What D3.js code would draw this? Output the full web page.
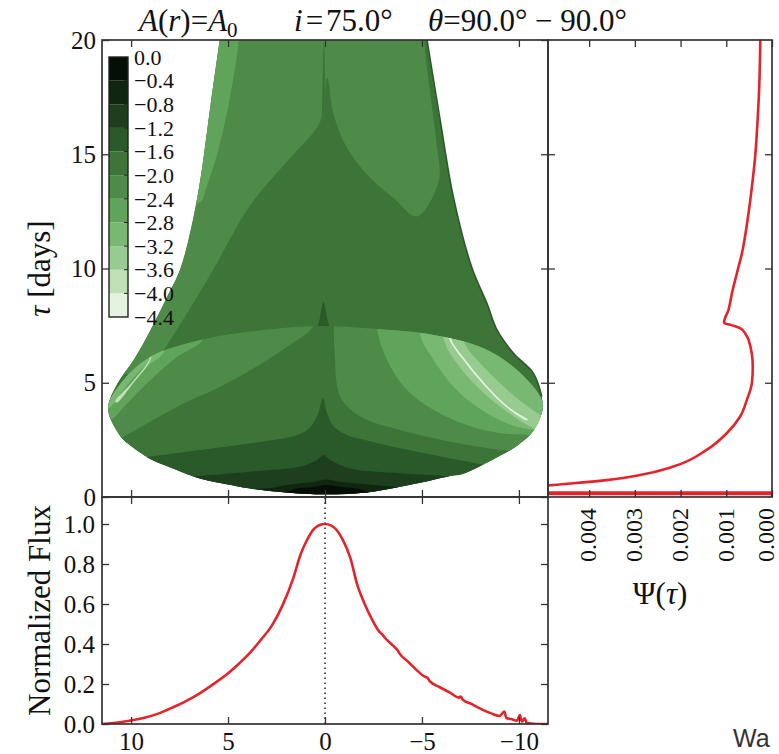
<!DOCTYPE html>
<html>
<head>
<meta charset="utf-8">
<script src="https://cdn.jsdelivr.net/npm/d3@7"></script>
<style>
  body { margin: 0; background: #fff; }
  svg { display: block; }
</style>
</head>
<body>
<svg id="chart" width="779" height="754"></svg>
<script>
// ---------------- data ----------------
// contour levels (log response) shown on the colour bar
const levelTicks = [0.0, -0.4, -0.8, -1.2, -1.6, -2.0, -2.4, -2.8, -3.2, -3.6, -4.0, -4.4];
// colour of each 0.4-wide band, from -4.4 (light) up to 0.0 (dark)
const bandColors = ["#e3f3df", "#bfe1b8", "#97cb90", "#79b873", "#60a35b", "#4e8b48",
                    "#3d7539", "#2a5a2a", "#1d3f1e", "#11260f", "#050f06"];

// outline of the response map, points are [velocity, delay (days)]
const bellLeft  = [[5.43,20],[5.90,17.17],[6.59,13.09],[7.45,10.02],[8.14,8.77],[9.00,7.31],[9.87,6.00],[10.71,4.98],[11.19,3.88]];
const bellRight = [[-11.23,3.88],[-11.18,4.4],[-10.75,5.41],[-9.72,6.29],[-8.87,7.31],[-8.35,8.48],[-7.58,10.02],[-6.63,13.09],[-5.95,16.44],[-5.26,20]];
const diskTop    = [[11.19,3.88],[10.54,4.97],[9.00,6.14],[6.42,6.87],[3.84,7.24],[0.41,7.48],[-2.17,7.38],[-5.60,7.09],[-8.18,6.51],[-9.90,5.56],[-11.10,4.39],[-11.23,3.88]];
const diskBottom = [[11.19,3.88],[10.54,2.64],[10.20,2.35],[9.00,1.65],[8.14,1.35],[6.42,0.80],[5.0,0.55],[3.84,0.37],[2.0,0.2],[0.0,0.12],[-2.17,0.2],[-3.88,0.45],[-4.92,0.62],[-6.46,0.92],[-7.15,1.02],[-9.04,1.8],[-10.0,2.3],[-10.75,2.9],[-11.23,3.88]];

// filled contour regions inside the extended (bell) part
const bellBand  = [[12,21],[-5.12,21],[-5.12,20],[-5.45,17.5],[-5.75,15.5],[-5.86,13.82],[-4.74,12.28],[-3.54,13.09],[-2.34,13.96],[-1.14,15.27],[-0.45,16.73],[-0.11,18.34],[0.24,16.44],[1.95,14.69],[3.84,12.79],[5.8,9.9],[7.0,8.2],[8.31,6.43],[9.0,5.5],[12,5.5]];
const bellStrip = [[4.45,21],[4.45,20],[4.9,17.5],[5.5,15.2],[6.1,13.6],[6.45,12.9],[8,12.9],[8,21]];
const bellSpike = [[0.17,16.3],[0.06,19.95],[-0.05,16.3]];
const topSpike  = [[0.55,7.0],[0.3,7.7],[0.08,8.55],[-0.15,7.7],[-0.4,7.0]];

// filled contour regions inside the disk
const diskLeftL6  = [[0.58,9],[0.58,7.53],[1.95,6.58],[3.84,5.56],[5.56,4.76],[7.28,4.10],[9.00,3.30],[10.37,2.64],[11.06,2.35],[13,2.0],[13,9]];
const diskLeftL7  = [[6.25,9],[6.25,6.94],[7.62,6.14],[9.00,5.12],[10.20,4.10],[11.06,3.37],[13,3.0],[13,9]];
const diskLeftL8  = [[8.31,9],[8.31,6.36],[9.51,5.56],[10.54,4.54],[11.06,3.95],[13,3.5],[13,9]];
const diskLeftRidge = [[9.15,6.6],[9.03,6.11],[9.98,4.99],[10.82,4.19],[10.74,4.13],[9.92,4.95],[8.97,6.06],[9.05,6.6]];
const diskRightL6 = [[-0.45,9],[-0.45,7.60],[-0.50,6.29],[-0.79,4.39],[-1.82,3.52],[-3.88,2.93],[-6.46,2.42],[-9.04,2.06],[-9.90,1.98],[-13,1.5],[-13,9]];
const diskRightL7 = [[-2.68,9],[-2.68,7.38],[-3.20,6.00],[-4.23,4.68],[-5.60,3.81],[-7.32,3.15],[-9.04,2.79],[-10.58,2.71],[-13,2.5],[-13,9]];
const diskRightL8 = [[-4.91,9],[-4.91,7.09],[-5.60,6.00],[-6.63,4.83],[-7.84,3.95],[-9.39,3.22],[-10.75,2.93],[-13,2.8],[-13,9]];
const diskRightL9 = [[-6.11,9],[-6.11,6.94],[-6.80,5.85],[-7.84,4.83],[-9.04,3.95],[-10.58,3.08],[-12,2.6],[-12,3.2],[-11.10,3.59],[-10.24,4.10],[-9.04,4.97],[-8.01,5.85],[-7.15,6.84],[-7.15,9]];
const diskRightRidge = [[-6.33,7.4],[-6.41,6.9],[-7.26,5.85],[-8.12,4.97],[-9.33,3.95],[-10.35,3.37],[-10.47,3.37],[-9.45,3.95],[-8.24,4.97],[-7.38,5.85],[-6.53,6.87],[-6.47,7.4]];
const diskL4 = [[12,-1],[12,1.3],[10.54,1.55],[9.00,1.77],[6.42,2.06],[3.84,2.35],[1.61,2.67],[0.92,2.93],[0.41,3.52],[0.10,4.32],[-0.11,3.66],[-0.45,3.08],[-1.14,2.71],[-2.17,2.47],[-3.88,2.13],[-5.60,1.84],[-7.32,1.55],[-8.69,1.33],[-12,1.0],[-12,-1]];
const diskL3 = [[12,-1],[12,0.6],[9.0,0.77],[7.11,0.89],[3.84,1.11],[1.27,1.33],[0.41,1.62],[0.07,1.84],[-0.28,1.62],[-1.31,1.25],[-3.88,1.04],[-6.63,0.89],[-8.18,0.74],[-12,0.5],[-12,-1]];
const diskL2 = [[12,-1],[4.36,0.31],[2.98,0.38],[1.95,0.53],[0.58,0.67],[-0.02,0.77],[-0.79,0.67],[-2.51,0.53],[-3.54,0.45],[-4.74,0.31],[-12,-1]];
const diskL1 = [[3.5,-1],[1.95,0.23],[0.58,0.45],[-0.02,0.53],[-0.79,0.45],[-2.17,0.23],[-3.5,-1]];

// band value carried by each region
const bellRegions = [[bellBand, -2.2], [bellStrip, -2.6], [bellSpike, -1.8], [topSpike, -1.4]];
const diskRegions = [[diskLeftL6, -2.2], [diskLeftL7, -2.6], [diskLeftL8, -3.0], [diskLeftRidge, -3.8],
                     [diskRightL6, -2.2], [diskRightL7, -2.6], [diskRightL8, -3.0], [diskRightL9, -3.4], [diskRightRidge, -4.2],
                     [diskL4, -1.4], [diskL3, -1.0], [diskL2, -0.6], [diskL1, -0.2]];
const baseValue = -1.8;

// delay-integrated transfer function Psi(tau)
const psiTau = [0, 0.13, 0.15, 0.19, 0.22, 0.30, 0.40, 0.51, 0.60, 0.74, 0.96, 1.33, 2.06, 2.79, 3.51, 4.25, 4.98, 5.70, 6.87, 7.10, 7.38, 7.50, 7.63, 8.20, 8.91, 9.79, 10.66, 12.12, 13.58, 14.95, 16.50, 17.96, 19.88, 20.0];
const psiVal = [0, 0, 0.02, 0, 0.02, 0.009, 0.006, 0.0049, 0.00435, 0.00362, 0.00289, 0.00216, 0.00143, 0.00099, 0.00070, 0.00055, 0.00044, 0.00042, 0.00051, 0.00057, 0.00069, 0.00085, 0.00105, 0.00095, 0.000877, 0.000768, 0.000658, 0.000535, 0.000439, 0.000366, 0.000315, 0.000279, 0.000257, 0.000256];

// velocity-resolved line profile
const fluxV = [11.5, 10.5, 9.37, 8.6, 7.89, 7.1, 6.42, 5.7, 4.95, 4.4, 3.85, 3.3, 2.74, 2.19, 1.64, 1.27, 0.9, 0.6, 0.3, 0.0,
               -0.3, -0.6, -0.9, -1.31, -1.67, -2.0, -2.41, -2.8, -2.95, -3.1, -3.51, -3.75, -3.85, -4.3, -4.7, -5.08, -5.3, -5.4, -5.9, -6.46,
               -6.9, -7.0, -7.1, -7.6, -8.11, -8.6, -9.0, -9.25, -9.35, -9.59, -9.9, -10.05, -10.15, -10.3, -10.4, -10.87, -11.5];
const fluxVal = [0.0, 0.010, 0.030, 0.052, 0.081, 0.118, 0.156, 0.203, 0.257, 0.305, 0.358, 0.422, 0.492, 0.593, 0.728, 0.845, 0.925, 0.972, 0.994, 1.0,
                 0.993, 0.970, 0.924, 0.829, 0.694, 0.610, 0.526, 0.462, 0.448, 0.430, 0.392, 0.368, 0.352, 0.310, 0.272, 0.240, 0.229, 0.214, 0.185, 0.156,
                 0.132, 0.137, 0.122, 0.098, 0.072, 0.052, 0.040, 0.062, 0.030, 0.025, 0.016, 0.045, 0.012, 0.028, 0.006, 0.0, 0.0];

const velTicks = [10, 5, 0, -5, -10];
const tauTicks = [0, 5, 10, 15, 20];
const fluxTicks = [0.0, 0.2, 0.4, 0.6, 0.8, 1.0];
const psiTicks = [0.004, 0.003, 0.002, 0.001, 0.000];

// ---------------- layout ----------------
const SERIF = "'Liberation Serif', 'DejaVu Serif', serif";
const INK = "#333";
const RED = "#e3242b";
const main = {x0: 102, x1: 548, y0: 40, y1: 497};
const low  = {x0: 102, x1: 548, y0: 497, y1: 724};
const side = {x0: 548, x1: 772, y0: 40, y1: 497};

const xV   = d3.scaleLinear().domain([11.5, -11.5]).range([main.x0, main.x1]);
const yTau = d3.scaleLinear().domain([0, 20]).range([main.y1, main.y0]);
const yFlux = d3.scaleLinear().domain([0, 1.135]).range([low.y1, low.y0]);
const xPsi = d3.scaleLinear().domain([0.0049, 0]).range([side.x0, side.x1]);
const color = d3.scaleQuantize().domain([-4.4, 0]).range(bandColors);

const svg = d3.select("#chart");
const defs = svg.append("defs");

const smooth = d3.line().x(d => xV(d[0])).y(d => yTau(d[1])).curve(d3.curveCatmullRom.alpha(0.5));
const smoothClosed = d3.line().x(d => xV(d[0])).y(d => yTau(d[1])).curve(d3.curveCatmullRomClosed.alpha(0.5));

const bellOutline = bellLeft.concat(diskBottom.slice(1), bellRight.slice(1));
const bellPath = smooth(bellOutline) + "Z";
const diskPath = smoothClosed(diskTop.concat(diskBottom.slice(1, -1).reverse()));

function clipRect(id, b) {
  defs.append("clipPath").attr("id", id).append("rect")
    .attr("x", b.x0).attr("y", b.y0).attr("width", b.x1 - b.x0).attr("height", b.y1 - b.y0);
}
clipRect("clipMain", main);
clipRect("clipLow", low);
clipRect("clipSide", side);
defs.append("clipPath").attr("id", "clipBell").append("path").attr("d", bellPath);
defs.append("clipPath").attr("id", "clipDisk").append("path").attr("d", diskPath);

// ---------------- response map ----------------
const map = svg.append("g").attr("clip-path", "url(#clipMain)");
const bellG = map.append("g").attr("clip-path", "url(#clipBell)");
bellG.append("path").attr("d", bellPath).attr("fill", color(baseValue));
bellG.selectAll("path.region").data(bellRegions).join("path")
  .attr("class", "region")
  .attr("d", d => smooth(d[0]) + "Z")
  .attr("fill", d => color(d[1]));

map.append("path")
  .attr("d", smooth(bellRight.slice(1)))
  .attr("fill", "none").attr("stroke", color(-1.4)).attr("stroke-width", 1.6);

const diskG = map.append("g").attr("clip-path", "url(#clipDisk)");
diskG.append("path").attr("d", diskPath).attr("fill", color(baseValue));
diskG.selectAll("path.region").data(diskRegions).join("path")
  .attr("class", "region")
  .attr("d", d => smooth(d[0]) + "Z")
  .attr("fill", d => color(d[1]));

// ---------------- colour bar ----------------
const cbY = d3.scaleLinear().domain([-4.4, 0]).range([317, 57]);
const cbX0 = 109, cbX1 = 128;
const cb = svg.append("g");
const bands = d3.pairs(levelTicks.slice().reverse());
cb.selectAll("rect.band").data(bands).join("rect")
  .attr("class", "band")
  .attr("x", cbX0).attr("width", cbX1 - cbX0)
  .attr("y", d => cbY(d[1])).attr("height", d => cbY(d[0]) - cbY(d[1]))
  .attr("fill", d => color((d[0] + d[1]) / 2));
cb.selectAll("line.tick").data(levelTicks.slice(1, -1)).join("line")
  .attr("class", "tick")
  .attr("x1", cbX1 - 4).attr("x2", cbX1)
  .attr("y1", d => cbY(d)).attr("y2", d => cbY(d))
  .attr("stroke", "#222").attr("stroke-width", 1);
cb.append("rect").attr("x", cbX0).attr("y", cbY(0)).attr("width", cbX1 - cbX0).attr("height", cbY(-4.4) - cbY(0))
  .attr("fill", "none").attr("stroke", "#222").attr("stroke-width", 1.4);
cb.selectAll("text").data(levelTicks).join("text")
  .attr("x", 134).attr("y", d => cbY(d)).attr("dy", "0.35em")
  .attr("font-family", SERIF).attr("font-size", 22).attr("fill", "#111")
  .text(d => d3.format(".1f")(d));

// ---------------- line profile ----------------
const lowG = svg.append("g");
lowG.append("line")
  .attr("x1", xV(0)).attr("x2", xV(0)).attr("y1", low.y1).attr("y2", low.y0)
  .attr("stroke", "#222").attr("stroke-width", 1.5).attr("stroke-dasharray", "1.5,3.5");
const fluxLine = d3.line().x((d, i) => xV(fluxV[i])).y(d => yFlux(d)).curve(d3.curveMonotoneX);
lowG.append("path").attr("clip-path", "url(#clipLow)")
  .attr("d", fluxLine(fluxVal))
  .attr("fill", "none").attr("stroke", RED).attr("stroke-width", 2.6).attr("stroke-linejoin", "round");

// ---------------- Psi(tau) ----------------
const psiLine = d3.line().x(d => xPsi(d)).y((d, i) => yTau(psiTau[i])).curve(d3.curveMonotoneY);
svg.append("path").attr("clip-path", "url(#clipSide)")
  .attr("d", psiLine(psiVal))
  .attr("fill", "none").attr("stroke", RED).attr("stroke-width", 2.6).attr("stroke-linejoin", "round");

// ---------------- axes ----------------
function styleAxis(g, fontSize) {
  g.select(".domain").remove();
  g.selectAll(".tick line").attr("stroke", INK).attr("stroke-width", 1.3);
  g.selectAll(".tick text").attr("fill", "#111").attr("font-family", SERIF).attr("font-size", fontSize);
  g.attr("font-family", null).attr("font-size", null);
}
function addAxis(axis, tx, ty, fontSize) {
  const g = svg.append("g").attr("transform", `translate(${tx},${ty})`).call(axis);
  styleAxis(g, fontSize || 25);
  return g;
}
const TK = -7;
// response map
addAxis(d3.axisLeft(yTau).tickValues(tauTicks).tickSize(TK).tickPadding(6).tickFormat(d3.format("d")), main.x0, 0);
addAxis(d3.axisRight(yTau).tickValues(tauTicks).tickSize(TK).tickFormat(""), main.x1, 0);
addAxis(d3.axisTop(xV).tickValues(velTicks).tickSize(TK).tickFormat(""), 0, main.y0);
addAxis(d3.axisBottom(xV).tickValues(velTicks).tickSize(TK).tickFormat(""), 0, main.y1);
// line profile
addAxis(d3.axisLeft(yFlux).tickValues(fluxTicks).tickSize(TK).tickPadding(7).tickFormat(d3.format(".1f")), low.x0, 0);
addAxis(d3.axisRight(yFlux).tickValues(fluxTicks).tickSize(TK).tickFormat(""), low.x1, 0);
addAxis(d3.axisTop(xV).tickValues(velTicks).tickSize(TK).tickFormat(""), 0, low.y0);
addAxis(d3.axisBottom(xV).tickValues(velTicks).tickSize(TK).tickPadding(8).tickFormat(d3.format("d")), 0, low.y1);
// Psi panel
addAxis(d3.axisLeft(yTau).tickValues([5, 10, 15]).tickSize(TK).tickFormat(""), side.x0, 0);
addAxis(d3.axisRight(yTau).tickValues([5, 10, 15]).tickSize(TK).tickFormat(""), side.x1, 0);
addAxis(d3.axisTop(xPsi).tickValues(psiTicks).tickSize(TK).tickFormat(""), 0, side.y0);
const psiAxis = addAxis(d3.axisBottom(xPsi).tickValues(psiTicks).tickSize(TK).tickFormat(d3.format(".3f")), 0, side.y1, 24);
psiAxis.selectAll(".tick text")
  .attr("transform", "rotate(-90)")
  .attr("text-anchor", "end")
  .attr("x", -11).attr("y", 0)
  // the label sitting on the figure's right edge is nudged inward
  .attr("dy", d => d === 0 ? "0.06em" : "0.28em");

// frames
[main, low, side].forEach(b => {
  svg.append("rect").attr("x", b.x0).attr("y", b.y0).attr("width", b.x1 - b.x0).attr("height", b.y1 - b.y0)
    .attr("fill", "none").attr("stroke", INK).attr("stroke-width", 1.7);
});

// ---------------- labels ----------------
const lab = svg.append("g").attr("font-family", SERIF).attr("fill", "#111");
const tauLab = lab.append("text")
  .attr("transform", `translate(50,${(main.y0 + main.y1) / 2}) rotate(-90)`)
  .attr("text-anchor", "middle").attr("font-size", 31);
tauLab.append("tspan").attr("font-style", "italic").text("τ");
tauLab.append("tspan").text(" [days]");

lab.append("text")
  .attr("transform", `translate(50,${(low.y0 + low.y1) / 2}) rotate(-90)`)
  .attr("text-anchor", "middle").attr("font-size", 31)
  .text("Normalized Flux");

const psiLab = lab.append("text")
  .attr("x", (side.x0 + side.x1) / 2).attr("y", 604)
  .attr("text-anchor", "middle").attr("font-size", 31);
psiLab.append("tspan").text("Ψ(");
psiLab.append("tspan").attr("font-style", "italic").text("τ");
psiLab.append("tspan").text(")");

// title
const t1 = lab.append("text").attr("x", 139).attr("y", 31).attr("font-size", 31);
t1.append("tspan").attr("font-style", "italic").text("A");
t1.append("tspan").text("(");
t1.append("tspan").attr("font-style", "italic").text("r");
t1.append("tspan").text(")=");
t1.append("tspan").attr("font-style", "italic").text("A");
t1.append("tspan").attr("font-size", 21).attr("dy", 6).text("0");

const t2 = lab.append("text").attr("x", 294).attr("y", 31).attr("font-size", 31);
t2.append("tspan").attr("font-style", "italic").text("i");
t2.append("tspan").attr("dx", 3).text("=");
t2.append("tspan").attr("dx", 3).text("75.0°");

const t3 = lab.append("text").attr("x", 428).attr("y", 31).attr("font-size", 31);
t3.append("tspan").attr("font-style", "italic").text("θ");
t3.append("tspan").text("=90.0° − 90.0°");

// neighbouring caption text at the lower right
svg.append("text").attr("x", 733).attr("y", 747)
  .attr("font-family", "'Liberation Sans', Arial, sans-serif").attr("font-size", 25).attr("fill", "#333")
  .text("Wa");
</script>
</body>
</html>
